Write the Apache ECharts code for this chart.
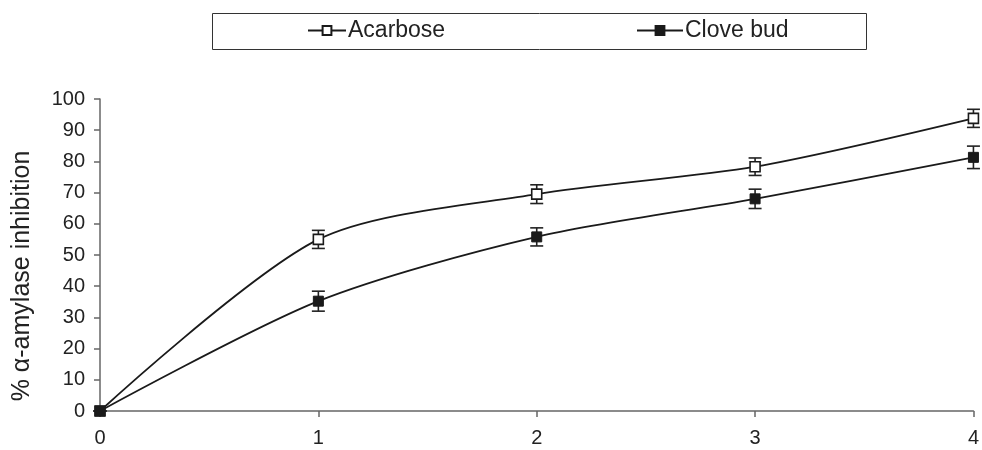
<!DOCTYPE html>
<html>
<head>
<meta charset="utf-8">
<script src="https://cdn.jsdelivr.net/npm/echarts@6/dist/echarts.min.js"></script>
<style>
html,body{margin:0;padding:0;background:#fff;}
#chart{width:982px;height:450px;}
</style>
</head>
<body>
<div id="chart"></div>
<script>
var xValues = [0, 1, 2, 3, 4];
var acarbose = [0, 55, 69.5, 78.3, 93.8];
var clove = [0, 35.2, 55.8, 68, 81.3];
var acarboseErr = [0, 2.9, 3.0, 2.8, 2.9];
var cloveErr = [0, 3.2, 2.9, 3.1, 3.6];
var seriesNames = ['Acarbose', 'Clove bud'];
var yTitle = '% \u03b1-amylase inhibition';

function pairs(ys) { return xValues.map(function (x, i) { return [x, ys[i]]; }); }
function errData(ys, es) { return xValues.map(function (x, i) { return [x, ys[i] - es[i], ys[i] + es[i]]; }); }

function errRender(params, api) {
  var x = api.value(0);
  var lo = api.coord([x, api.value(1)]);
  var hi = api.coord([x, api.value(2)]);
  var w = 6.5;
  var st = { stroke: '#222', lineWidth: 1.6 };
  return {
    type: 'group',
    children: [
      { type: 'line', shape: { x1: lo[0], y1: lo[1], x2: hi[0], y2: hi[1] }, style: st },
      { type: 'line', shape: { x1: lo[0] - w, y1: lo[1], x2: lo[0] + w, y2: lo[1] }, style: st },
      { type: 'line', shape: { x1: hi[0] - w, y1: hi[1], x2: hi[0] + w, y2: hi[1] }, style: st }
    ]
  };
}

var chart = echarts.init(document.getElementById('chart'), null, { renderer: 'canvas' });
var font = 'Liberation Sans, Arial, sans-serif';
chart.setOption({
  animation: false,
  backgroundColor: '#fff',
  textStyle: { fontFamily: font },
  graphic: [{
    type: 'rect', left: 210, top: 11,
    shape: { width: 654, height: 36 },
    style: { fill: 'none', stroke: '#333', lineWidth: 1 }
  }, {
    type: 'text', rotation: Math.PI / 2, x: 22, y: 276,
    style: { text: yTitle, fontSize: 25, fill: '#222', fontFamily: font, align: 'center', verticalAlign: 'middle' }
  }],
  legend: [
    { data: [seriesNames[0]], left: 302, top: 14, itemWidth: 38, itemHeight: 11, itemGap: 0,
      textStyle: { fontSize: 23, color: '#222', fontFamily: font, padding: [0, 0, 0, -3] } },
    { data: [seriesNames[1]], left: 631, top: 14, itemWidth: 46, itemHeight: 11, itemGap: 0,
      textStyle: { fontSize: 23, color: '#222', fontFamily: font, padding: [0, 0, 0, -3] } }
  ],
  grid: { left: 100, right: 7, top: 99, bottom: 39, containLabel: false },
  xAxis: {
    type: 'value', min: 0, max: 4, interval: 1,
    axisLine: { lineStyle: { color: '#666', width: 1.5 } },
    axisTick: { length: 6, lineStyle: { color: '#666', width: 1.5 } },
    axisLabel: { fontSize: 20, color: '#222', margin: 17, fontFamily: font },
    splitLine: { show: false }
  },
  yAxis: {
    type: 'value', min: 0, max: 100, interval: 10,
    axisLine: { show: true, lineStyle: { color: '#666', width: 1.5 } },
    axisTick: { show: true, length: 6, lineStyle: { color: '#666', width: 1.5 } },
    axisLabel: { fontSize: 20, color: '#222', margin: 15, fontFamily: font },
    splitLine: { show: false }
  },
  series: [
    { name: 'errA', type: 'custom', renderItem: errRender, data: errData(acarbose, acarboseErr), z: 1, silent: true },
    { name: 'errC', type: 'custom', renderItem: errRender, data: errData(clove, cloveErr), z: 1, silent: true },
    { name: seriesNames[0], type: 'line', data: pairs(acarbose), smooth: 0.28,
      symbol: 'rect', symbolSize: 10, showAllSymbol: true,
      lineStyle: { color: '#1a1a1a', width: 1.8 },
      itemStyle: { color: '#fff', borderColor: '#1a1a1a', borderWidth: 1.6 }, z: 3 },
    { name: seriesNames[1], type: 'line', data: pairs(clove), smooth: 0.28,
      symbol: 'rect', symbolSize: 10, showAllSymbol: true,
      lineStyle: { color: '#1a1a1a', width: 1.8 },
      itemStyle: { color: '#1a1a1a', borderColor: '#1a1a1a', borderWidth: 1 }, z: 3 }
  ]
});
</script>
</body>
</html>
